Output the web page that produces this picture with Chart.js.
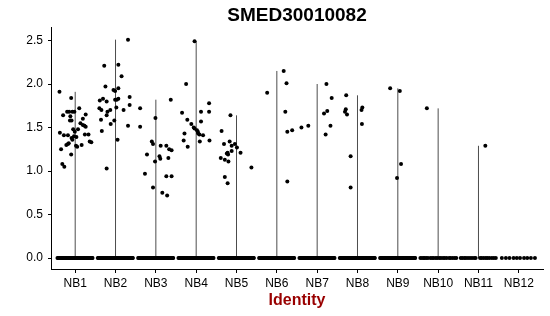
<!DOCTYPE html>
<html>
<head>
<meta charset="utf-8">
<script src="https://cdn.jsdelivr.net/npm/chart.js@4.4.0/dist/chart.umd.min.js"></script>
<style>
  html, body { margin: 0; padding: 0; background: #fff; }
  #wrap { width: 550px; height: 316px; }
</style>
</head>
<body>
<div id="wrap"><canvas id="chart"></canvas></div>
<script>
// data: [jitter offset, expression]

const categories = ['NB1', 'NB2', 'NB3', 'NB4', 'NB5', 'NB6', 'NB7', 'NB8', 'NB9', 'NB10', 'NB11', 'NB12']
const yTicks = [0, 0.5, 1, 1.5, 2, 2.5]

const nb1 = [[-0.39,1.91],[-0.10,1.84],[0.26,1.65],[0.10,1.72],[-0.20,1.68],[-0.15,1.68],[-0.07,1.68],[-0.02,1.68],
  [-0.30,1.64],[-0.12,1.63],[0.19,1.60],[-0.13,1.58],[-0.09,1.58],[0.13,1.55],[0.19,1.53],[0.23,1.52],[0.26,1.51],
  [0.07,1.48],[-0.05,1.48],[-0.01,1.45],[-0.38,1.44],[-0.28,1.41],[-0.18,1.41],[-0.03,1.40],[0.03,1.39],[0.24,1.42],
  [0.33,1.42],[-0.09,1.38],[-0.07,1.36],[-0.35,1.25],[-0.22,1.30],[-0.18,1.31],[-0.16,1.32],[0.02,1.29],[0.05,1.28],
  [0.16,1.30],[0.36,1.34],[0.40,1.33],[-0.10,1.19],[-0.32,1.08],[-0.27,1.05]]
const nb2 = [[0.31,2.51],[-0.28,2.21],[0.07,2.22],[0.15,2.09],[-0.25,1.97],[-0.05,1.93],[-0.01,1.92],[0.07,1.95],
  [-0.39,1.81],[-0.31,1.83],[-0.22,1.80],[-0.01,1.82],[0.03,1.82],[0.07,1.83],[0.35,1.85],[0.35,1.76],[-0.40,1.72],
  [-0.35,1.70],[-0.20,1.68],[-0.13,1.70],[0.02,1.73],[0.20,1.70],[-0.22,1.64],[-0.36,1.59],[-0.03,1.58],[-0.12,1.54],
  [0.31,1.52],[-0.34,1.46],[0.05,1.36],[-0.22,1.03]]
const nb3 = [[-0.39,1.72],[-0.39,1.51],[-0.01,1.61],[0.37,1.82],[-0.10,1.34],[-0.07,1.31],[0.12,1.29],[0.26,1.29],
  [0.33,1.25],[0.39,1.24],[-0.22,1.19],[0.09,1.17],[0.11,1.14],[0.31,1.15],[-0.02,1.11],[-0.27,0.97],[0.26,0.94],
  [0.39,0.94],[-0.07,0.81],[0.16,0.75],[0.28,0.72]]
const nb4 = [[-0.04,2.49],[-0.25,2.00],[0.32,1.78],[0.32,1.68],[0.12,1.68],[-0.35,1.67],[-0.22,1.59],[-0.12,1.54],
  [0.12,1.57],[-0.04,1.49],[0.02,1.47],[0.05,1.43],[0.08,1.42],[0.17,1.41],[-0.29,1.43],[-0.31,1.35],[0.09,1.34],
  [0.33,1.35],[-0.21,1.28],[-0.06,1.50],[0.04,1.45]]
const nb5 = [[-0.15,1.64],[-0.37,1.46],[-0.17,1.34],[-0.31,1.31],[-0.04,1.31],[-0.12,1.29],[0.01,1.27],[-0.12,1.23],
  [-0.22,1.21],[-0.21,1.19],[-0.24,1.20],[0.10,1.21],[-0.39,1.15],[-0.29,1.13],[-0.20,1.11],[0.37,1.04],[-0.29,0.93],
  [-0.22,0.86]]
const nb6 = [[0.17,2.15],[0.24,2.01],[-0.24,1.90],[0.21,1.68],[0.26,1.45],[0.38,1.47],[0.26,0.88]]
const nb7 = [[-0.39,1.50],[-0.22,1.52],[0.23,2.00],[0.36,1.84],[0.25,1.69],[0.17,1.66],[0.33,1.52],[0.21,1.42]]
const nb8 = [[-0.28,1.87],[-0.29,1.71],[-0.31,1.68],[-0.26,1.65],[0.12,1.73],[0.10,1.70],[0.11,1.54],[-0.17,1.17],[-0.17,0.81]]
const nb9 = [[-0.19,1.95],[0.05,1.92],[0.08,1.08],[-0.02,0.92]]
const nb10 = [[-0.28,1.72]]
const nb11 = [[0.17,1.29]]
const nb12 = []

// jitter offsets of the cells at zero
const zeroDense = [-0.44,-0.42,-0.41,-0.39,-0.37,-0.35,-0.33,-0.32,-0.30,-0.28,-0.26,-0.24,-0.23,-0.21,-0.19,-0.17,
  -0.15,-0.14,-0.12,-0.10,-0.08,-0.06,-0.05,-0.03,-0.01,0.01,0.03,0.04,0.06,0.08,0.10,0.12,0.13,0.15,0.17,0.19,0.21,
  0.22,0.24,0.26,0.28,0.30,0.31,0.33,0.35,0.37,0.39,0.40,0.42,0.43]
const zeroNB10 = [-0.44,-0.40,-0.36,-0.33,-0.29,-0.25,-0.19,-0.15,-0.11,-0.06,-0.02,0.03,0.07,0.12,0.16,0.21,0.27,0.31,0.36,0.41,0.45]
const zeroNB11 = [-0.44,-0.40,-0.35,-0.31,-0.26,-0.21,-0.16,-0.11,-0.07,0.04,0.08,0.13,0.18,0.22,0.27,0.33,0.38,0.43]
const zeroNB12 = [-0.42,-0.32,-0.23,-0.13,-0.05,0.03,0.13,0.21,0.30,0.40]

const nonZero = [nb1, nb2, nb3, nb4, nb5, nb6, nb7, nb8, nb9, nb10, nb11, nb12]
const zeros = [zeroDense, zeroDense, zeroDense, zeroDense, zeroDense, zeroDense, zeroDense, zeroDense, zeroDense, zeroNB10, zeroNB11, zeroNB12]

// build datasets

const points = []
const violins = []

categories.forEach((c, i) => {
  zeros[i].forEach(dx => points.push({ x: i + dx, y: 0 }))
  nonZero[i].forEach(p => points.push({ x: i + p[0], y: p[1] }))
  if (nonZero[i].length) {
    const top = Math.max(...nonZero[i].map(p => p[1]))
    violins.push({
      data: [{ x: i, y: 0 }, { x: i, y: top }],
      showLine: true,
      borderColor: 'rgba(0,0,0,0.7)',
      borderWidth: 1,
      pointRadius: 0,
      order: 2,
    })
  }
})

Chart.defaults.font.family = "'Liberation Sans', Arial, sans-serif"
Chart.defaults.color = '#000'

new Chart(document.getElementById('chart'), {
  type: 'scatter',
  data: {
    datasets: [
      {
        data: points,
        backgroundColor: '#000',
        borderWidth: 0,
        pointRadius: 2,
        order: 1,
      },
      ...violins,
    ],
  },
  options: {
    responsive: true,
    maintainAspectRatio: false,
    animation: false,
    layout: {
      padding: { left: 0, right: 7, top: 0, bottom: 0 },
    },
    plugins: {
      legend: { display: false },
      tooltip: { enabled: false },
      title: {
        display: true,
        fullSize: false,
        text: 'SMED30010082',
        color: '#000',
        font: { size: 19, weight: 'bold' },
        padding: { top: 4, bottom: 1 },
      },
    },
    scales: {
      x: {
        type: 'linear',
        min: -0.6,
        max: 11.6,
        afterBuildTicks: s => { s.ticks = categories.map((c, i) => ({ value: i })) },
        afterFit: s => { s.height = 47 },
        ticks: {
          callback: v => categories[Math.round(v)],
          color: '#000',
          font: { size: 12 },
          padding: 3,
          autoSkip: false,
          maxRotation: 0,
        },
        grid: { drawOnChartArea: false, tickLength: 4, color: '#000' },
        border: { color: '#000', width: 1 },
        title: {
          display: true,
          text: 'Identity',
          color: '#990000',
          font: { size: 16, weight: 'bold' },
          padding: { top: 2, bottom: 6 },
        },
      },
      y: {
        min: -0.126,
        max: 2.646,
        afterBuildTicks: s => { s.ticks = yTicks.map(v => ({ value: v })) },
        afterFit: s => { s.width = 51 },
        ticks: {
          callback: v => v.toFixed(1),
          color: '#000',
          font: { size: 12 },
          padding: 5,
        },
        grid: { drawOnChartArea: false, tickLength: 3, color: '#000' },
        border: { color: '#000', width: 1 },
      },
    },
  },
})
</script>
</body>
</html>
